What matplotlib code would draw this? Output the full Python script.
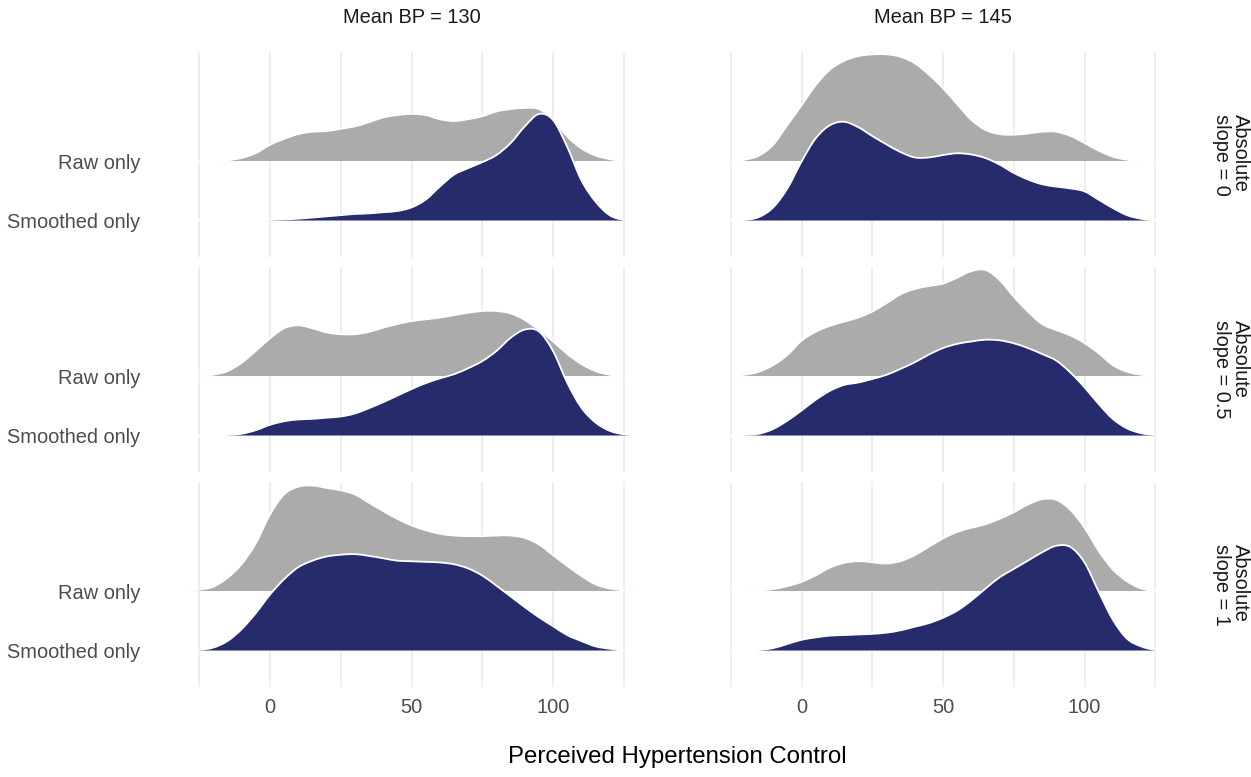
import matplotlib
matplotlib.use("Agg")
import matplotlib.pyplot as plt
from matplotlib.path import Path
from matplotlib.patches import PathPatch

plt.rcParams['font.family'] = ['Liberation Sans', 'DejaVu Sans']

# ---------------- data ----------------
x_grid = list(range(-30, 131, 5))  # Perceived Hypertension Control grid (-30 ... 130)

col_titles = ["Mean BP = 130", "Mean BP = 145"]
row_titles = ["Absolute\nslope = 0", "Absolute\nslope = 0.5", "Absolute\nslope = 1"]
ridge_labels = ["Smoothed only", "Raw only"]
x_ticks = [0, 50, 100]
x_title = "Perceived Hypertension Control"

# ridge heights (in units of ridge spacing)
raw_130_s0 = [0, 0, 0, 0.01, 0.05, 0.13, 0.27, 0.37, 0.45, 0.49, 0.50, 0.54, 0.58, 0.65, 0.73, 0.77, 0.79,
              0.77, 0.70, 0.67, 0.70, 0.75, 0.83, 0.87, 0.89, 0.87, 0.69, 0.41, 0.21, 0.09, 0.03, 0, 0]
smooth_130_s0 = [0, 0, 0, 0, 0, 0, 0.01, 0.02, 0.03, 0.05, 0.07, 0.09, 0.11, 0.12, 0.14, 0.16, 0.22,
                 0.35, 0.57, 0.77, 0.88, 0.98, 1.10, 1.30, 1.58, 1.79, 1.69, 1.24, 0.68, 0.32, 0.09, 0.01, 0]
raw_145_s0 = [0, 0, 0.02, 0.09, 0.27, 0.60, 0.93, 1.27, 1.53, 1.68, 1.76, 1.79, 1.79, 1.75, 1.64, 1.45, 1.22,
              0.95, 0.69, 0.52, 0.45, 0.44, 0.46, 0.49, 0.49, 0.42, 0.30, 0.17, 0.07, 0.02, 0, 0, 0]
smooth_145_s0 = [0, 0, 0.01, 0.06, 0.22, 0.54, 0.99, 1.38, 1.60, 1.66, 1.57, 1.42, 1.28, 1.15, 1.06, 1.06, 1.10,
                 1.13, 1.11, 1.05, 0.94, 0.80, 0.69, 0.61, 0.57, 0.54, 0.49, 0.35, 0.21, 0.09, 0.03, 0, 0]

raw_130_s05 = [0, 0, 0.02, 0.08, 0.22, 0.42, 0.63, 0.80, 0.85, 0.80, 0.73, 0.70, 0.70, 0.74, 0.81, 0.87, 0.92,
               0.95, 0.98, 1.02, 1.06, 1.09, 1.09, 1.05, 0.94, 0.77, 0.58, 0.37, 0.20, 0.08, 0.02, 0, 0]
smooth_130_s05 = [0, 0, 0, 0.01, 0.03, 0.09, 0.18, 0.24, 0.27, 0.28, 0.30, 0.32, 0.37, 0.46, 0.56, 0.67, 0.78,
                  0.88, 0.96, 1.03, 1.13, 1.25, 1.42, 1.64, 1.78, 1.75, 1.42, 0.89, 0.47, 0.22, 0.08, 0.02, 0]
raw_145_s05 = [0, 0, 0.02, 0.07, 0.18, 0.35, 0.59, 0.74, 0.84, 0.91, 0.98, 1.08, 1.22, 1.37, 1.46, 1.51, 1.55,
               1.65, 1.76, 1.78, 1.61, 1.33, 1.08, 0.87, 0.77, 0.68, 0.55, 0.38, 0.18, 0.07, 0.02, 0, 0]
smooth_145_s05 = [0, 0, 0.01, 0.03, 0.11, 0.25, 0.42, 0.60, 0.75, 0.85, 0.89, 0.95, 1.02, 1.12, 1.23, 1.36, 1.47,
                  1.54, 1.58, 1.61, 1.60, 1.55, 1.47, 1.37, 1.26, 1.06, 0.81, 0.53, 0.28, 0.12, 0.04, 0.01, 0]

raw_130_s1 = [0, 0.02, 0.07, 0.22, 0.45, 0.80, 1.28, 1.62, 1.75, 1.77, 1.73, 1.69, 1.62, 1.48, 1.34, 1.21, 1.10,
              1.02, 0.96, 0.93, 0.92, 0.92, 0.93, 0.93, 0.89, 0.78, 0.60, 0.42, 0.25, 0.11, 0.04, 0.01, 0]
smooth_130_s1 = [0, 0.01, 0.05, 0.16, 0.36, 0.63, 0.94, 1.20, 1.40, 1.51, 1.58, 1.61, 1.62, 1.59, 1.55, 1.51, 1.50,
                 1.49, 1.48, 1.45, 1.38, 1.26, 1.09, 0.91, 0.73, 0.56, 0.41, 0.26, 0.16, 0.07, 0.03, 0, 0]
raw_145_s1 = [0, 0, 0, 0.01, 0.03, 0.08, 0.15, 0.26, 0.39, 0.47, 0.50, 0.48, 0.46, 0.50, 0.60, 0.74, 0.88,
              0.99, 1.06, 1.12, 1.21, 1.32, 1.45, 1.54, 1.53, 1.36, 1.06, 0.67, 0.36, 0.16, 0.04, 0, 0]
smooth_145_s1 = [0, 0, 0, 0.01, 0.04, 0.11, 0.18, 0.22, 0.25, 0.26, 0.27, 0.28, 0.30, 0.34, 0.40, 0.46, 0.55,
                 0.67, 0.84, 1.04, 1.23, 1.37, 1.51, 1.65, 1.76, 1.74, 1.48, 0.99, 0.52, 0.20, 0.07, 0.01, 0]

panels = [
    [(raw_130_s0, smooth_130_s0), (raw_145_s0, smooth_145_s0)],
    [(raw_130_s05, smooth_130_s05), (raw_145_s05, smooth_145_s05)],
    [(raw_130_s1, smooth_130_s1), (raw_145_s1, smooth_145_s1)],
]

# ---------------- style / layout ----------------
GREY = "#ABABAB"
NAVY = "#262B6B"
GRID = "#EBEBEB"
W, H = 1251, 777
fig = plt.figure(figsize=(W / 100, H / 100), dpi=100)

xlim = (-40, 140)
ppu = 2.83                      # pixels per x unit
col_zero_px = [270, 801.5]      # pixel of x = 0 in each column
row_tops = [52, 267, 482]
row_h = 205
ylim = (0.387, 3.832)
grid_x = [-25, 0, 25, 50, 75, 100, 125]


def ridge_paths(xs, hs, base):
    """Smooth (Catmull-Rom as cubic Bezier) outline through the read points."""
    pts = [(x, base + h) for x, h in zip(xs, hs)]
    n = len(pts)
    verts = [pts[0]]
    codes = [Path.MOVETO]
    for i in range(n - 1):
        p0 = pts[max(i - 1, 0)]
        p1 = pts[i]
        p2 = pts[i + 1]
        p3 = pts[min(i + 2, n - 1)]
        c1 = (p1[0] + (p2[0] - p0[0]) / 6, max(base, p1[1] + (p2[1] - p0[1]) / 6))
        c2 = (p2[0] - (p3[0] - p1[0]) / 6, max(base, p2[1] - (p3[1] - p1[1]) / 6))
        verts += [c1, c2, p2]
        codes += [Path.CURVE4] * 3
    line = Path(verts, codes)
    fverts = [(xs[0], base)] + verts + [(xs[-1], base), (xs[0], base)]
    fcodes = [Path.MOVETO, Path.LINETO] + codes[1:] + [Path.LINETO, Path.CLOSEPOLY]
    fill = Path(fverts, fcodes)
    return fill, line


for r in range(3):
    for c in range(2):
        left = col_zero_px[c] + xlim[0] * ppu
        width = (xlim[1] - xlim[0]) * ppu
        ax = fig.add_axes([left / W, 1 - (row_tops[r] + row_h) / H, width / W, row_h / H])
        ax.set_xlim(*xlim)
        ax.set_ylim(*ylim)
        ax.patch.set_alpha(0)
        for s in ax.spines.values():
            s.set_visible(False)
        for gx in grid_x:
            ax.axvline(gx, color=GRID, lw=1.2, zorder=0)
        raw, smooth = panels[r][c]
        for hs, base, color, z, lw in [(raw, 2, GREY, 2, 1.1), (smooth, 1, NAVY, 3, 1.3)]:
            fill, line = ridge_paths(x_grid, hs, base)
            ax.add_patch(PathPatch(fill, facecolor=color, edgecolor="none", zorder=z))
            ax.add_patch(PathPatch(line, facecolor="none", edgecolor="white", lw=lw, zorder=z + 0.1))

        ax.set_yticks([1, 2])
        if c == 0:
            ax.set_yticklabels(ridge_labels, fontsize=14.4, color="#4D4D4D")
        else:
            ax.set_yticklabels([])
        ax.set_xticks(x_ticks)
        if r == 2:
            ax.set_xticklabels([str(t) for t in x_ticks], fontsize=14.4, color="#4D4D4D")
        else:
            ax.set_xticklabels([])
        ax.tick_params(axis="y", length=0, pad=12)
        ax.tick_params(axis="x", length=0, pad=8)

# column strips (top)
for c in range(2):
    cx = col_zero_px[c] + 50 * ppu
    fig.text(cx / W, 1 - 17.5 / H, col_titles[c], ha="center", va="center",
             fontsize=14.4, color="#1A1A1A")

# row strips (right)
for r in range(3):
    cy = row_tops[r] + row_h / 2
    fig.text(1231 / W, 1 - cy / H, row_titles[r], ha="center", va="center",
             rotation=-90, rotation_mode="anchor", multialignment="left",
             linespacing=1.0, fontsize=14.4, color="#1A1A1A")

fig.text(677.5 / W, 1 - 757 / H, x_title, ha="center", va="center", fontsize=17.3, color="black")

fig.savefig("out.png", dpi=100, facecolor="white")
